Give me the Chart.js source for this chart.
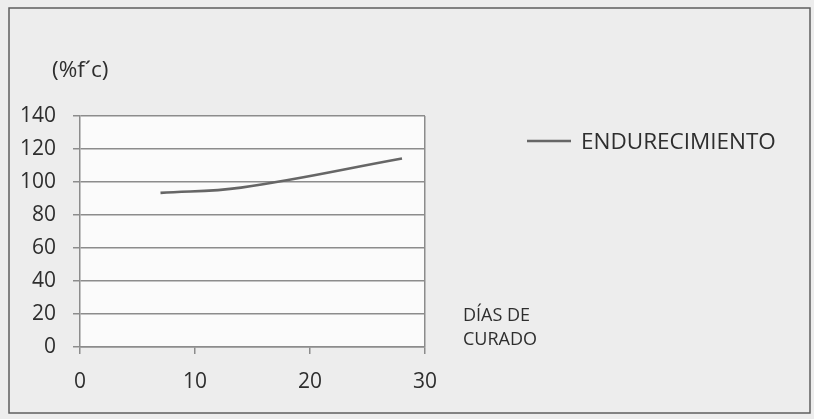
<!DOCTYPE html>
<html>
<head>
<meta charset="utf-8">
<script src="https://cdn.jsdelivr.net/npm/chart.js@4/dist/chart.umd.min.js"></script>
<style>
  html, body { margin: 0; padding: 0; background: #ededed; }
  #wrap { position: relative; width: 814px; height: 419px; }
  canvas { display: block; }
</style>
</head>
<body>
<div id="wrap"><canvas id="c" width="814" height="419"></canvas></div>
<script>
// Curing age (days) and strength gain as a percentage of f'c
const curingDays = [7, 14, 28];
const strengthPct = [93.4, 96.6, 114.2];
const seriesName = 'ENDURECIMIENTO';
const yTicks = [0, 20, 40, 60, 80, 100, 120, 140];
const xTicks = [0, 10, 20, 30];
const yAxisTitle = '(%f\u00B4c)';
const xAxisTitle = ['D\u00CDAS DE', 'CURADO'];

const FONT = '"Open Sans", "Liberation Sans", sans-serif';
const GRID = '#8c8c8c';
const LINE = '#666666';
const TEXT = '#2e2e2e';

// Page background, outer frame, white plot panel, free-standing texts and legend
const decorations = {
  id: 'decorations',
  beforeDraw(chart) {
    const { ctx, chartArea: a } = chart;
    ctx.save();
    ctx.fillStyle = '#ededed';
    ctx.fillRect(0, 0, chart.width, chart.height);
    ctx.strokeStyle = '#5e5e5e';
    ctx.lineWidth = 1.5;
    ctx.strokeRect(9, 8, 801, 405);
    ctx.fillStyle = '#fbfbfb';
    ctx.fillRect(a.left, a.top, a.right - a.left, a.bottom - a.top);
    ctx.restore();
  },
  afterDraw(chart) {
    const { ctx } = chart;
    const ds = chart.data.datasets[0];
    ctx.save();
    ctx.fillStyle = TEXT;
    ctx.textBaseline = 'middle';
    ctx.textAlign = 'left';
    ctx.font = '22.5px ' + FONT;
    ctx.fillText(yAxisTitle, 52, 71);
    ctx.font = '18px ' + FONT;
    ctx.fillText(xAxisTitle[0], 463, 316);
    ctx.fillText(xAxisTitle[1], 463, 340);
    // legend entry
    ctx.strokeStyle = ds.borderColor;
    ctx.lineWidth = ds.borderWidth;
    ctx.beginPath();
    ctx.moveTo(527, 141);
    ctx.lineTo(571, 141);
    ctx.stroke();
    ctx.font = '22.5px ' + FONT;
    ctx.fillText(ds.label, 581, 143);
    ctx.restore();
  }
};

new Chart(document.getElementById('c'), {
  type: 'line',
  data: {
    datasets: [{
      label: seriesName,
      data: curingDays.map((d, i) => ({ x: d, y: strengthPct[i] })),
      borderColor: LINE,
      borderWidth: 2.6,
      pointRadius: 0,
      tension: 0.4,
      fill: false
    }]
  },
  options: {
    responsive: false,
    animation: false,
    events: [],
    layout: { padding: { left: 0, top: 116, right: 389, bottom: 22 } },
    plugins: { legend: { display: false }, tooltip: { enabled: false } },
    scales: {
      x: {
        type: 'linear',
        min: xTicks[0],
        max: xTicks[xTicks.length - 1],
        afterBuildTicks: s => { s.ticks = xTicks.map(v => ({ value: v })); },
        afterFit: s => { s.height = 50; },
        border: { display: true, color: GRID, width: 1.5 },
        grid: {
          color: c => (c.tick && c.tick.value === 30) ? GRID : 'rgba(0,0,0,0)',
          tickColor: GRID,
          tickLength: 7,
          lineWidth: 1.5
        },
        ticks: { color: TEXT, font: { family: FONT, size: 21 }, padding: 15, maxRotation: 0 }
      },
      y: {
        min: yTicks[0],
        max: yTicks[yTicks.length - 1],
        afterBuildTicks: s => { s.ticks = yTicks.map(v => ({ value: v })); },
        afterFit: s => { s.width = 80; },
        border: { display: true, color: GRID, width: 1.5 },
        grid: { color: GRID, tickColor: GRID, tickLength: 7, lineWidth: 1.5 },
        ticks: { color: TEXT, font: { family: FONT, size: 21 }, padding: 17 }
      }
    }
  },
  plugins: [decorations]
});
</script>
</body>
</html>
